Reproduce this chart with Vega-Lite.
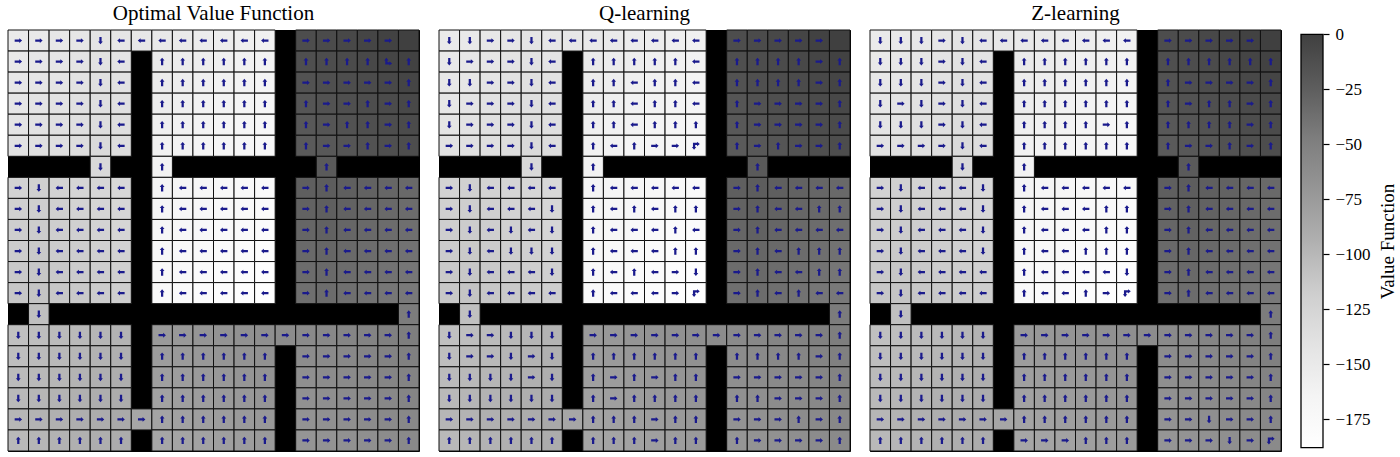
{
"$schema": "https://vega.github.io/schema/vega-lite/v6.json",
"padding": {"left": 7, "top": 2, "right": 0, "bottom": 0},
"background": "white",
"config": {"view": {"stroke": null}, "title": {"font": "Liberation Serif", "fontSize": 21, "fontWeight": "normal", "color": "black", "offset": 6}},
"datasets": {"cells": [
{"r":0,"c":0,"v":-151,"o":"→","q":"↓","z":"↓"},{"r":0,"c":1,"v":-149,"o":"→","q":"↓","z":"↓"},{"r":0,"c":2,"v":-147,"o":"→","q":"→","z":"↓"},{"r":0,"c":3,"v":-145,"o":"→","q":"→","z":"→"},{"r":0,"c":4,"v":-142,"o":"↓","q":"↓","z":"↓"},{"r":0,"c":5,"v":-145,"o":"←","q":"←","z":"←"},{"r":0,"c":6,"v":-147,"o":"←","q":"←","z":"←"},{"r":0,"c":7,"v":-149,"o":"←","q":"←","z":"←"},{"r":0,"c":8,"v":-151,"o":"←","q":"←","z":"←"},{"r":0,"c":9,"v":-153,"o":"←","q":"←","z":"←"},{"r":0,"c":10,"v":-155,"o":"←","q":"←","z":"←"},{"r":0,"c":11,"v":-158,"o":"←","q":"←","z":"←"},{"r":0,"c":12,"v":-160,"o":"←","q":"←","z":"←"},{"r":0,"c":14,"v":-11,"o":"→","q":"→","z":"→"},{"r":0,"c":15,"v":-9,"o":"→","q":"→","z":"→"},{"r":0,"c":16,"v":-7,"o":"→","q":"→","z":"→"},{"r":0,"c":17,"v":-4,"o":"→","q":"→","z":"→"},{"r":0,"c":18,"v":-2,"o":"→","q":"→","z":"→"},{"r":0,"c":19,"v":0,"o":"","q":"","z":""},
{"r":1,"c":0,"v":-149,"o":"→","q":"↓","z":"↓"},{"r":1,"c":1,"v":-147,"o":"→","q":"→","z":"↓"},{"r":1,"c":2,"v":-145,"o":"→","q":"→","z":"↓"},{"r":1,"c":3,"v":-142,"o":"→","q":"→","z":"→"},{"r":1,"c":4,"v":-140,"o":"↓","q":"↓","z":"↓"},{"r":1,"c":5,"v":-142,"o":"←","q":"←","z":"←"},{"r":1,"c":7,"v":-151,"o":"↑","q":"↑","z":"↑"},{"r":1,"c":8,"v":-153,"o":"↑","q":"↑","z":"↑"},{"r":1,"c":9,"v":-155,"o":"↑","q":"↑","z":"↑"},{"r":1,"c":10,"v":-158,"o":"↑","q":"↑","z":"↑"},{"r":1,"c":11,"v":-160,"o":"↑","q":"↑","z":"↑"},{"r":1,"c":12,"v":-162,"o":"↑","q":"←","z":"↑"},{"r":1,"c":14,"v":-13,"o":"↑","q":"↑","z":"↑"},{"r":1,"c":15,"v":-11,"o":"↑","q":"↑","z":"↑"},{"r":1,"c":16,"v":-9,"o":"↑","q":"↑","z":"↑"},{"r":1,"c":17,"v":-7,"o":"↑","q":"↑","z":"↑"},{"r":1,"c":18,"v":-4,"o":"↳","q":"→","z":"↑"},{"r":1,"c":19,"v":-2,"o":"↑","q":"↑","z":"↑"},
{"r":2,"c":0,"v":-147,"o":"→","q":"↓","z":"↓"},{"r":2,"c":1,"v":-145,"o":"→","q":"↓","z":"↓"},{"r":2,"c":2,"v":-142,"o":"→","q":"→","z":"↓"},{"r":2,"c":3,"v":-140,"o":"→","q":"→","z":"→"},{"r":2,"c":4,"v":-138,"o":"↓","q":"↓","z":"↓"},{"r":2,"c":5,"v":-140,"o":"←","q":"←","z":"←"},{"r":2,"c":7,"v":-153,"o":"↑","q":"↑","z":"↑"},{"r":2,"c":8,"v":-155,"o":"↑","q":"↑","z":"↑"},{"r":2,"c":9,"v":-158,"o":"↑","q":"←","z":"↑"},{"r":2,"c":10,"v":-160,"o":"↑","q":"↑","z":"↑"},{"r":2,"c":11,"v":-162,"o":"↑","q":"↑","z":"↑"},{"r":2,"c":12,"v":-164,"o":"↑","q":"←","z":"↑"},{"r":2,"c":14,"v":-15,"o":"→","q":"↑","z":"↑"},{"r":2,"c":15,"v":-13,"o":"→","q":"↑","z":"→"},{"r":2,"c":16,"v":-11,"o":"→","q":"↑","z":"→"},{"r":2,"c":17,"v":-9,"o":"→","q":"↑","z":"→"},{"r":2,"c":18,"v":-7,"o":"→","q":"→","z":"→"},{"r":2,"c":19,"v":-4,"o":"↑","q":"↑","z":"↑"},
{"r":3,"c":0,"v":-145,"o":"→","q":"↓","z":"↓"},{"r":3,"c":1,"v":-142,"o":"→","q":"→","z":"→"},{"r":3,"c":2,"v":-140,"o":"→","q":"→","z":"↓"},{"r":3,"c":3,"v":-138,"o":"→","q":"→","z":"→"},{"r":3,"c":4,"v":-136,"o":"↓","q":"↓","z":"↓"},{"r":3,"c":5,"v":-138,"o":"←","q":"←","z":"←"},{"r":3,"c":7,"v":-155,"o":"↑","q":"↑","z":"↑"},{"r":3,"c":8,"v":-158,"o":"↑","q":"↑","z":"↑"},{"r":3,"c":9,"v":-160,"o":"↑","q":"←","z":"↑"},{"r":3,"c":10,"v":-162,"o":"↑","q":"↑","z":"↑"},{"r":3,"c":11,"v":-164,"o":"↑","q":"↑","z":"↑"},{"r":3,"c":12,"v":-166,"o":"↑","q":"←","z":"↑"},{"r":3,"c":14,"v":-18,"o":"↑","q":"↑","z":"↑"},{"r":3,"c":15,"v":-15,"o":"→","q":"→","z":"→"},{"r":3,"c":16,"v":-13,"o":"→","q":"→","z":"↑"},{"r":3,"c":17,"v":-11,"o":"↑","q":"→","z":"↑"},{"r":3,"c":18,"v":-9,"o":"→","q":"→","z":"→"},{"r":3,"c":19,"v":-7,"o":"↑","q":"↑","z":"↑"},
{"r":4,"c":0,"v":-142,"o":"→","q":"↓","z":"↓"},{"r":4,"c":1,"v":-140,"o":"→","q":"→","z":"↓"},{"r":4,"c":2,"v":-138,"o":"→","q":"→","z":"↓"},{"r":4,"c":3,"v":-136,"o":"→","q":"→","z":"→"},{"r":4,"c":4,"v":-134,"o":"↓","q":"↓","z":"↓"},{"r":4,"c":5,"v":-136,"o":"←","q":"←","z":"←"},{"r":4,"c":7,"v":-158,"o":"↑","q":"↑","z":"↑"},{"r":4,"c":8,"v":-160,"o":"↑","q":"↑","z":"↑"},{"r":4,"c":9,"v":-162,"o":"↑","q":"←","z":"↑"},{"r":4,"c":10,"v":-164,"o":"↑","q":"↑","z":"↑"},{"r":4,"c":11,"v":-166,"o":"↑","q":"↑","z":"→"},{"r":4,"c":12,"v":-169,"o":"↑","q":"↑","z":"↑"},{"r":4,"c":14,"v":-20,"o":"↑","q":"↑","z":"↑"},{"r":4,"c":15,"v":-18,"o":"→","q":"→","z":"↑"},{"r":4,"c":16,"v":-15,"o":"↑","q":"→","z":"↑"},{"r":4,"c":17,"v":-13,"o":"↑","q":"→","z":"↑"},{"r":4,"c":18,"v":-11,"o":"→","q":"→","z":"→"},{"r":4,"c":19,"v":-9,"o":"↑","q":"↑","z":"↑"},
{"r":5,"c":0,"v":-140,"o":"→","q":"→","z":"→"},{"r":5,"c":1,"v":-138,"o":"→","q":"→","z":"→"},{"r":5,"c":2,"v":-136,"o":"→","q":"→","z":"→"},{"r":5,"c":3,"v":-134,"o":"→","q":"→","z":"→"},{"r":5,"c":4,"v":-131,"o":"↓","q":"↓","z":"↓"},{"r":5,"c":5,"v":-134,"o":"←","q":"←","z":"←"},{"r":5,"c":7,"v":-160,"o":"↑","q":"↑","z":"↑"},{"r":5,"c":8,"v":-162,"o":"↑","q":"←","z":"↑"},{"r":5,"c":9,"v":-164,"o":"↑","q":"↑","z":"↑"},{"r":5,"c":10,"v":-166,"o":"↑","q":"→","z":"↑"},{"r":5,"c":11,"v":-169,"o":"↑","q":"→","z":"↑"},{"r":5,"c":12,"v":-171,"o":"↑","q":"↱","z":"↑"},{"r":5,"c":14,"v":-22,"o":"↑","q":"↑","z":"↑"},{"r":5,"c":15,"v":-20,"o":"→","q":"→","z":"→"},{"r":5,"c":16,"v":-18,"o":"→","q":"↑","z":"→"},{"r":5,"c":17,"v":-15,"o":"↑","q":"→","z":"↑"},{"r":5,"c":18,"v":-13,"o":"→","q":"→","z":"→"},{"r":5,"c":19,"v":-11,"o":"↑","q":"↑","z":"↑"},
{"r":6,"c":4,"v":-129,"o":"↓","q":"↓","z":"↓"},{"r":6,"c":7,"v":-162,"o":"↑","q":"↑","z":"↑"},{"r":6,"c":15,"v":-22,"o":"↑","q":"↑","z":"↑"},
{"r":7,"c":0,"v":-123,"o":"→","q":"→","z":"→"},{"r":7,"c":1,"v":-120,"o":"↓","q":"↓","z":"↓"},{"r":7,"c":2,"v":-123,"o":"←","q":"←","z":"←"},{"r":7,"c":3,"v":-125,"o":"←","q":"←","z":"←"},{"r":7,"c":4,"v":-127,"o":"←","q":"←","z":"←"},{"r":7,"c":5,"v":-129,"o":"←","q":"←","z":"↓"},{"r":7,"c":7,"v":-164,"o":"↑","q":"↑","z":"↑"},{"r":7,"c":8,"v":-166,"o":"←","q":"←","z":"←"},{"r":7,"c":9,"v":-169,"o":"←","q":"←","z":"←"},{"r":7,"c":10,"v":-171,"o":"←","q":"←","z":"←"},{"r":7,"c":11,"v":-173,"o":"←","q":"←","z":"←"},{"r":7,"c":12,"v":-175,"o":"←","q":"←","z":"←"},{"r":7,"c":14,"v":-26,"o":"→","q":"→","z":"→"},{"r":7,"c":15,"v":-24,"o":"↑","q":"↑","z":"↑"},{"r":7,"c":16,"v":-26,"o":"←","q":"←","z":"←"},{"r":7,"c":17,"v":-28,"o":"←","q":"←","z":"←"},{"r":7,"c":18,"v":-31,"o":"←","q":"←","z":"←"},{"r":7,"c":19,"v":-33,"o":"←","q":"←","z":"←"},
{"r":8,"c":0,"v":-120,"o":"→","q":"→","z":"→"},{"r":8,"c":1,"v":-118,"o":"↓","q":"↓","z":"↓"},{"r":8,"c":2,"v":-120,"o":"←","q":"←","z":"←"},{"r":8,"c":3,"v":-123,"o":"←","q":"←","z":"←"},{"r":8,"c":4,"v":-125,"o":"←","q":"←","z":"←"},{"r":8,"c":5,"v":-127,"o":"←","q":"↓","z":"↓"},{"r":8,"c":7,"v":-166,"o":"↑","q":"↑","z":"↑"},{"r":8,"c":8,"v":-169,"o":"←","q":"←","z":"←"},{"r":8,"c":9,"v":-171,"o":"←","q":"↑","z":"←"},{"r":8,"c":10,"v":-173,"o":"←","q":"←","z":"←"},{"r":8,"c":11,"v":-175,"o":"←","q":"↑","z":"↑"},{"r":8,"c":12,"v":-177,"o":"←","q":"↑","z":"↑"},{"r":8,"c":14,"v":-28,"o":"→","q":"→","z":"→"},{"r":8,"c":15,"v":-26,"o":"↑","q":"↑","z":"↑"},{"r":8,"c":16,"v":-28,"o":"←","q":"←","z":"←"},{"r":8,"c":17,"v":-31,"o":"←","q":"←","z":"←"},{"r":8,"c":18,"v":-33,"o":"←","q":"↑","z":"←"},{"r":8,"c":19,"v":-35,"o":"←","q":"↑","z":"←"},
{"r":9,"c":0,"v":-118,"o":"→","q":"→","z":"→"},{"r":9,"c":1,"v":-116,"o":"↓","q":"↓","z":"↓"},{"r":9,"c":2,"v":-118,"o":"←","q":"←","z":"←"},{"r":9,"c":3,"v":-120,"o":"←","q":"↓","z":"←"},{"r":9,"c":4,"v":-123,"o":"←","q":"←","z":"←"},{"r":9,"c":5,"v":-125,"o":"←","q":"↓","z":"↓"},{"r":9,"c":7,"v":-169,"o":"↑","q":"↑","z":"↑"},{"r":9,"c":8,"v":-171,"o":"←","q":"←","z":"←"},{"r":9,"c":9,"v":-173,"o":"←","q":"←","z":"←"},{"r":9,"c":10,"v":-175,"o":"←","q":"←","z":"←"},{"r":9,"c":11,"v":-177,"o":"←","q":"↑","z":"↑"},{"r":9,"c":12,"v":-180,"o":"←","q":"←","z":"↑"},{"r":9,"c":14,"v":-31,"o":"→","q":"→","z":"→"},{"r":9,"c":15,"v":-28,"o":"↑","q":"↑","z":"↑"},{"r":9,"c":16,"v":-31,"o":"←","q":"←","z":"←"},{"r":9,"c":17,"v":-33,"o":"←","q":"←","z":"←"},{"r":9,"c":18,"v":-35,"o":"←","q":"←","z":"←"},{"r":9,"c":19,"v":-37,"o":"←","q":"←","z":"←"},
{"r":10,"c":0,"v":-116,"o":"→","q":"→","z":"→"},{"r":10,"c":1,"v":-114,"o":"↓","q":"↓","z":"↓"},{"r":10,"c":2,"v":-116,"o":"←","q":"←","z":"←"},{"r":10,"c":3,"v":-118,"o":"←","q":"↓","z":"←"},{"r":10,"c":4,"v":-120,"o":"←","q":"↓","z":"←"},{"r":10,"c":5,"v":-123,"o":"←","q":"↓","z":"↓"},{"r":10,"c":7,"v":-171,"o":"↑","q":"↑","z":"↑"},{"r":10,"c":8,"v":-173,"o":"←","q":"←","z":"←"},{"r":10,"c":9,"v":-175,"o":"←","q":"←","z":"←"},{"r":10,"c":10,"v":-177,"o":"←","q":"←","z":"↑"},{"r":10,"c":11,"v":-180,"o":"←","q":"↑","z":"↑"},{"r":10,"c":12,"v":-182,"o":"←","q":"↑","z":"↑"},{"r":10,"c":14,"v":-33,"o":"→","q":"→","z":"→"},{"r":10,"c":15,"v":-31,"o":"↑","q":"↑","z":"↑"},{"r":10,"c":16,"v":-33,"o":"←","q":"←","z":"←"},{"r":10,"c":17,"v":-35,"o":"←","q":"↑","z":"←"},{"r":10,"c":18,"v":-37,"o":"←","q":"↑","z":"←"},{"r":10,"c":19,"v":-39,"o":"←","q":"↑","z":"←"},
{"r":11,"c":0,"v":-114,"o":"→","q":"→","z":"→"},{"r":11,"c":1,"v":-112,"o":"↓","q":"↓","z":"↓"},{"r":11,"c":2,"v":-114,"o":"←","q":"←","z":"←"},{"r":11,"c":3,"v":-116,"o":"←","q":"←","z":"←"},{"r":11,"c":4,"v":-118,"o":"←","q":"←","z":"←"},{"r":11,"c":5,"v":-120,"o":"←","q":"↓","z":"←"},{"r":11,"c":7,"v":-173,"o":"↑","q":"↑","z":"↑"},{"r":11,"c":8,"v":-175,"o":"←","q":"←","z":"←"},{"r":11,"c":9,"v":-177,"o":"←","q":"↑","z":"←"},{"r":11,"c":10,"v":-180,"o":"←","q":"←","z":"←"},{"r":11,"c":11,"v":-182,"o":"←","q":"→","z":"←"},{"r":11,"c":12,"v":-184,"o":"←","q":"↓","z":"↓"},{"r":11,"c":14,"v":-35,"o":"→","q":"→","z":"→"},{"r":11,"c":15,"v":-33,"o":"↑","q":"↑","z":"↑"},{"r":11,"c":16,"v":-35,"o":"←","q":"←","z":"←"},{"r":11,"c":17,"v":-37,"o":"←","q":"←","z":"←"},{"r":11,"c":18,"v":-39,"o":"←","q":"↑","z":"←"},{"r":11,"c":19,"v":-42,"o":"←","q":"↑","z":"←"},
{"r":12,"c":0,"v":-112,"o":"→","q":"→","z":"→"},{"r":12,"c":1,"v":-110,"o":"↓","q":"↓","z":"↓"},{"r":12,"c":2,"v":-112,"o":"←","q":"←","z":"←"},{"r":12,"c":3,"v":-114,"o":"←","q":"←","z":"←"},{"r":12,"c":4,"v":-116,"o":"←","q":"←","z":"←"},{"r":12,"c":5,"v":-118,"o":"←","q":"←","z":"←"},{"r":12,"c":7,"v":-175,"o":"↑","q":"↑","z":"↑"},{"r":12,"c":8,"v":-177,"o":"←","q":"←","z":"←"},{"r":12,"c":9,"v":-180,"o":"←","q":"←","z":"←"},{"r":12,"c":10,"v":-182,"o":"←","q":"←","z":"↑"},{"r":12,"c":11,"v":-184,"o":"←","q":"→","z":"→"},{"r":12,"c":12,"v":-186,"o":"←","q":"↱","z":"↱"},{"r":12,"c":14,"v":-37,"o":"→","q":"→","z":"→"},{"r":12,"c":15,"v":-35,"o":"↑","q":"↑","z":"↑"},{"r":12,"c":16,"v":-37,"o":"←","q":"←","z":"←"},{"r":12,"c":17,"v":-39,"o":"←","q":"↑","z":"←"},{"r":12,"c":18,"v":-42,"o":"←","q":"←","z":"←"},{"r":12,"c":19,"v":-44,"o":"←","q":"←","z":"←"},
{"r":13,"c":1,"v":-107,"o":"↓","q":"↓","z":"↓"},{"r":13,"c":19,"v":-46,"o":"↑","q":"↑","z":"↑"},
{"r":14,"c":0,"v":-107,"o":"↓","q":"↓","z":"↓"},{"r":14,"c":1,"v":-105,"o":"↓","q":"→","z":"↓"},{"r":14,"c":2,"v":-103,"o":"↓","q":"→","z":"↓"},{"r":14,"c":3,"v":-101,"o":"↓","q":"↓","z":"↓"},{"r":14,"c":4,"v":-99,"o":"↓","q":"↓","z":"↓"},{"r":14,"c":5,"v":-96,"o":"↓","q":"↓","z":"↓"},{"r":14,"c":7,"v":-74,"o":"→","q":"→","z":"→"},{"r":14,"c":8,"v":-72,"o":"→","q":"→","z":"→"},{"r":14,"c":9,"v":-70,"o":"→","q":"→","z":"→"},{"r":14,"c":10,"v":-68,"o":"→","q":"→","z":"→"},{"r":14,"c":11,"v":-66,"o":"→","q":"→","z":"→"},{"r":14,"c":12,"v":-64,"o":"→","q":"→","z":"→"},{"r":14,"c":13,"v":-61,"o":"→","q":"→","z":"→"},{"r":14,"c":14,"v":-59,"o":"→","q":"→","z":"→"},{"r":14,"c":15,"v":-57,"o":"→","q":"→","z":"→"},{"r":14,"c":16,"v":-55,"o":"→","q":"→","z":"→"},{"r":14,"c":17,"v":-53,"o":"→","q":"→","z":"→"},{"r":14,"c":18,"v":-50,"o":"→","q":"→","z":"→"},{"r":14,"c":19,"v":-48,"o":"↑","q":"↑","z":"↑"},
{"r":15,"c":0,"v":-105,"o":"↓","q":"↓","z":"↓"},{"r":15,"c":1,"v":-103,"o":"↓","q":"→","z":"↓"},{"r":15,"c":2,"v":-101,"o":"↓","q":"→","z":"↓"},{"r":15,"c":3,"v":-99,"o":"↓","q":"↓","z":"↓"},{"r":15,"c":4,"v":-96,"o":"↓","q":"→","z":"↓"},{"r":15,"c":5,"v":-94,"o":"↓","q":"↓","z":"↓"},{"r":15,"c":7,"v":-77,"o":"↑","q":"↑","z":"↑"},{"r":15,"c":8,"v":-74,"o":"↑","q":"↑","z":"↑"},{"r":15,"c":9,"v":-72,"o":"↑","q":"↑","z":"↑"},{"r":15,"c":10,"v":-70,"o":"↑","q":"↑","z":"↑"},{"r":15,"c":11,"v":-68,"o":"↑","q":"↑","z":"↑"},{"r":15,"c":12,"v":-66,"o":"↑","q":"↑","z":"↑"},{"r":15,"c":14,"v":-61,"o":"→","q":"↑","z":"→"},{"r":15,"c":15,"v":-59,"o":"→","q":"↑","z":"→"},{"r":15,"c":16,"v":-57,"o":"→","q":"↑","z":"→"},{"r":15,"c":17,"v":-55,"o":"→","q":"↑","z":"→"},{"r":15,"c":18,"v":-53,"o":"→","q":"→","z":"→"},{"r":15,"c":19,"v":-50,"o":"↑","q":"↑","z":"↑"},
{"r":16,"c":0,"v":-103,"o":"↓","q":"↓","z":"↓"},{"r":16,"c":1,"v":-101,"o":"↓","q":"↓","z":"↓"},{"r":16,"c":2,"v":-99,"o":"↓","q":"↓","z":"↓"},{"r":16,"c":3,"v":-96,"o":"↓","q":"↓","z":"↓"},{"r":16,"c":4,"v":-94,"o":"↓","q":"→","z":"↓"},{"r":16,"c":5,"v":-92,"o":"↓","q":"↓","z":"↓"},{"r":16,"c":7,"v":-79,"o":"↑","q":"↑","z":"↑"},{"r":16,"c":8,"v":-77,"o":"↑","q":"→","z":"↑"},{"r":16,"c":9,"v":-74,"o":"↑","q":"↑","z":"↑"},{"r":16,"c":10,"v":-72,"o":"↑","q":"→","z":"↑"},{"r":16,"c":11,"v":-70,"o":"↑","q":"↑","z":"↑"},{"r":16,"c":12,"v":-68,"o":"↑","q":"↑","z":"↑"},{"r":16,"c":14,"v":-64,"o":"→","q":"→","z":"→"},{"r":16,"c":15,"v":-61,"o":"→","q":"→","z":"→"},{"r":16,"c":16,"v":-59,"o":"→","q":"→","z":"→"},{"r":16,"c":17,"v":-57,"o":"→","q":"→","z":"→"},{"r":16,"c":18,"v":-55,"o":"→","q":"→","z":"→"},{"r":16,"c":19,"v":-53,"o":"↑","q":"↑","z":"↑"},
{"r":17,"c":0,"v":-101,"o":"↓","q":"↓","z":"↓"},{"r":17,"c":1,"v":-99,"o":"↓","q":"↓","z":"↓"},{"r":17,"c":2,"v":-96,"o":"↓","q":"↓","z":"↓"},{"r":17,"c":3,"v":-94,"o":"↓","q":"↓","z":"↓"},{"r":17,"c":4,"v":-92,"o":"↓","q":"↓","z":"↓"},{"r":17,"c":5,"v":-90,"o":"↓","q":"↓","z":"↓"},{"r":17,"c":7,"v":-81,"o":"↑","q":"↑","z":"↑"},{"r":17,"c":8,"v":-79,"o":"↑","q":"→","z":"↑"},{"r":17,"c":9,"v":-77,"o":"↑","q":"↑","z":"↑"},{"r":17,"c":10,"v":-74,"o":"↑","q":"↑","z":"↑"},{"r":17,"c":11,"v":-72,"o":"↑","q":"↑","z":"↑"},{"r":17,"c":12,"v":-70,"o":"↑","q":"↑","z":"↑"},{"r":17,"c":14,"v":-66,"o":"→","q":"↑","z":"→"},{"r":17,"c":15,"v":-64,"o":"→","q":"↑","z":"→"},{"r":17,"c":16,"v":-61,"o":"→","q":"→","z":"→"},{"r":17,"c":17,"v":-59,"o":"→","q":"→","z":"→"},{"r":17,"c":18,"v":-57,"o":"→","q":"→","z":"→"},{"r":17,"c":19,"v":-55,"o":"↑","q":"↑","z":"↑"},
{"r":18,"c":0,"v":-99,"o":"→","q":"→","z":"→"},{"r":18,"c":1,"v":-96,"o":"→","q":"→","z":"→"},{"r":18,"c":2,"v":-94,"o":"→","q":"→","z":"→"},{"r":18,"c":3,"v":-92,"o":"→","q":"→","z":"→"},{"r":18,"c":4,"v":-90,"o":"→","q":"→","z":"→"},{"r":18,"c":5,"v":-88,"o":"→","q":"→","z":"→"},{"r":18,"c":6,"v":-85,"o":"→","q":"→","z":"→"},{"r":18,"c":7,"v":-83,"o":"↑","q":"↑","z":"↑"},{"r":18,"c":8,"v":-81,"o":"↑","q":"↑","z":"↑"},{"r":18,"c":9,"v":-79,"o":"↑","q":"↑","z":"↑"},{"r":18,"c":10,"v":-77,"o":"↑","q":"→","z":"↑"},{"r":18,"c":11,"v":-74,"o":"↑","q":"↑","z":"↑"},{"r":18,"c":12,"v":-72,"o":"↑","q":"↑","z":"↑"},{"r":18,"c":14,"v":-68,"o":"→","q":"→","z":"→"},{"r":18,"c":15,"v":-66,"o":"→","q":"→","z":"→"},{"r":18,"c":16,"v":-64,"o":"→","q":"→","z":"↓"},{"r":18,"c":17,"v":-61,"o":"→","q":"↑","z":"→"},{"r":18,"c":18,"v":-59,"o":"→","q":"→","z":"→"},{"r":18,"c":19,"v":-57,"o":"↑","q":"↑","z":"↑"},
{"r":19,"c":0,"v":-101,"o":"↑","q":"↑","z":"↑"},{"r":19,"c":1,"v":-99,"o":"↑","q":"↑","z":"↑"},{"r":19,"c":2,"v":-96,"o":"↑","q":"↑","z":"↑"},{"r":19,"c":3,"v":-94,"o":"↑","q":"↑","z":"↑"},{"r":19,"c":4,"v":-92,"o":"↑","q":"↑","z":"↑"},{"r":19,"c":5,"v":-90,"o":"↑","q":"↑","z":"↑"},{"r":19,"c":7,"v":-85,"o":"↑","q":"↑","z":"→"},{"r":19,"c":8,"v":-83,"o":"↑","q":"↑","z":"→"},{"r":19,"c":9,"v":-81,"o":"↑","q":"↑","z":"→"},{"r":19,"c":10,"v":-79,"o":"↑","q":"→","z":"↑"},{"r":19,"c":11,"v":-77,"o":"↑","q":"↑","z":"↑"},{"r":19,"c":12,"v":-74,"o":"↑","q":"↑","z":"↑"},{"r":19,"c":14,"v":-70,"o":"→","q":"↑","z":"→"},{"r":19,"c":15,"v":-68,"o":"→","q":"→","z":"→"},{"r":19,"c":16,"v":-66,"o":"→","q":"→","z":"→"},{"r":19,"c":17,"v":-64,"o":"→","q":"→","z":"↓"},{"r":19,"c":18,"v":-61,"o":"→","q":"→","z":"→"},{"r":19,"c":19,"v":-59,"o":"↑","q":"↑","z":"↱"}
]},
"data": {"name": "cells"},
"bounds": "flush",
"spacing": 20,
"hconcat": [
{"title": "Optimal Value Function", "width": 411, "height": 421, "view": {"fill": "black", "stroke": "black"},
 "layer": [
  {"mark": {"type": "rect", "stroke": "#111111", "strokeWidth": 1},
   "encoding": {
    "x": {"field": "c", "type": "ordinal", "scale": {"domain": [0,1,2,3,4,5,6,7,8,9,10,11,12,13,14,15,16,17,18,19], "paddingInner": 0, "paddingOuter": 0}, "axis": null},
    "y": {"field": "r", "type": "ordinal", "scale": {"domain": [0,1,2,3,4,5,6,7,8,9,10,11,12,13,14,15,16,17,18,19], "paddingInner": 0, "paddingOuter": 0}, "axis": null},
    "fill": {"field": "v", "type": "quantitative", "scale": {"domain": [-188,-164.5,-141,-117.5,-94,-70.5,-47,-23.5,0], "range": ["#ffffff","#f4f4f4","#e3e3e3","#cecece","#b0b0b0","#969696","#7d7d7d","#5c5c5c","#404040"]}, "legend": null}}},
  {"transform": [{"filter": "datum.o != ''"}],
   "mark": {"type": "point", "filled": true, "size": 64, "strokeWidth": 0, "opacity": 1, "color": "#1a1a8c"},
   "encoding": {
    "x": {"field": "c", "type": "ordinal"},
    "y": {"field": "r", "type": "ordinal"},
    "shape": {"field": "o", "type": "nominal", "legend": null, "scale": {"domain": ["→","←","↑","↓","↳","↱"], "range": [
      "M -0.9 -0.28 L 0.25 -0.28 L 0.25 -0.6 L 0.95 0 L 0.25 0.6 L 0.25 0.28 L -0.9 0.28 Z",
      "M 0.9 -0.28 L -0.25 -0.28 L -0.25 -0.6 L -0.95 0 L -0.25 0.6 L -0.25 0.28 L 0.9 0.28 Z",
      "M -0.28 0.9 L -0.28 -0.25 L -0.6 -0.25 L 0 -0.95 L 0.6 -0.25 L 0.28 -0.25 L 0.28 0.9 Z",
      "M -0.28 -0.9 L -0.28 0.25 L -0.6 0.25 L 0 0.95 L 0.6 0.25 L 0.28 0.25 L 0.28 -0.9 Z",
      "M -0.73 0.73 L -0.73 -0.3 L -1 -0.3 L -0.45 -0.98 L 0.1 -0.3 L -0.17 -0.3 L -0.17 0.17 L 0.3 0.17 L 0.3 -0.1 L 0.98 0.45 L 0.3 1 L 0.3 0.73 Z",
      "M -0.73 -0.73 L 0.3 -0.73 L 0.3 -1 L 0.98 -0.45 L 0.3 0.1 L 0.3 -0.17 L -0.17 -0.17 L -0.17 0.3 L 0.1 0.3 L -0.45 0.98 L -1 0.3 L -0.73 0.3 Z"]}}}}
 ]},
{"title": "Q-learning", "width": 411, "height": 421, "view": {"fill": "black", "stroke": "black"},
 "layer": [
  {"mark": {"type": "rect", "stroke": "#111111", "strokeWidth": 1},
   "encoding": {
    "x": {"field": "c", "type": "ordinal", "scale": {"domain": [0,1,2,3,4,5,6,7,8,9,10,11,12,13,14,15,16,17,18,19], "paddingInner": 0, "paddingOuter": 0}, "axis": null},
    "y": {"field": "r", "type": "ordinal", "scale": {"domain": [0,1,2,3,4,5,6,7,8,9,10,11,12,13,14,15,16,17,18,19], "paddingInner": 0, "paddingOuter": 0}, "axis": null},
    "fill": {"field": "v", "type": "quantitative", "scale": {"domain": [-188,-164.5,-141,-117.5,-94,-70.5,-47,-23.5,0], "range": ["#ffffff","#f4f4f4","#e3e3e3","#cecece","#b0b0b0","#969696","#7d7d7d","#5c5c5c","#404040"]}, "legend": null}}},
  {"transform": [{"filter": "datum.q != ''"}],
   "mark": {"type": "point", "filled": true, "size": 64, "strokeWidth": 0, "opacity": 1, "color": "#1a1a8c"},
   "encoding": {
    "x": {"field": "c", "type": "ordinal"},
    "y": {"field": "r", "type": "ordinal"},
    "shape": {"field": "q", "type": "nominal", "legend": null, "scale": {"domain": ["→","←","↑","↓","↳","↱"], "range": [
      "M -0.9 -0.28 L 0.25 -0.28 L 0.25 -0.6 L 0.95 0 L 0.25 0.6 L 0.25 0.28 L -0.9 0.28 Z",
      "M 0.9 -0.28 L -0.25 -0.28 L -0.25 -0.6 L -0.95 0 L -0.25 0.6 L -0.25 0.28 L 0.9 0.28 Z",
      "M -0.28 0.9 L -0.28 -0.25 L -0.6 -0.25 L 0 -0.95 L 0.6 -0.25 L 0.28 -0.25 L 0.28 0.9 Z",
      "M -0.28 -0.9 L -0.28 0.25 L -0.6 0.25 L 0 0.95 L 0.6 0.25 L 0.28 0.25 L 0.28 -0.9 Z",
      "M -0.73 0.73 L -0.73 -0.3 L -1 -0.3 L -0.45 -0.98 L 0.1 -0.3 L -0.17 -0.3 L -0.17 0.17 L 0.3 0.17 L 0.3 -0.1 L 0.98 0.45 L 0.3 1 L 0.3 0.73 Z",
      "M -0.73 -0.73 L 0.3 -0.73 L 0.3 -1 L 0.98 -0.45 L 0.3 0.1 L 0.3 -0.17 L -0.17 -0.17 L -0.17 0.3 L 0.1 0.3 L -0.45 0.98 L -1 0.3 L -0.73 0.3 Z"]}}}}
 ]},
{"title": "Z-learning", "width": 411, "height": 421, "view": {"fill": "black", "stroke": "black"},
 "layer": [
  {"mark": {"type": "rect", "stroke": "#111111", "strokeWidth": 1},
   "encoding": {
    "x": {"field": "c", "type": "ordinal", "scale": {"domain": [0,1,2,3,4,5,6,7,8,9,10,11,12,13,14,15,16,17,18,19], "paddingInner": 0, "paddingOuter": 0}, "axis": null},
    "y": {"field": "r", "type": "ordinal", "scale": {"domain": [0,1,2,3,4,5,6,7,8,9,10,11,12,13,14,15,16,17,18,19], "paddingInner": 0, "paddingOuter": 0}, "axis": null},
    "fill": {"field": "v", "type": "quantitative", "scale": {"domain": [-188,-164.5,-141,-117.5,-94,-70.5,-47,-23.5,0], "range": ["#ffffff","#f4f4f4","#e3e3e3","#cecece","#b0b0b0","#969696","#7d7d7d","#5c5c5c","#404040"]}, "legend": null}}},
  {"transform": [{"filter": "datum.z != ''"}],
   "mark": {"type": "point", "filled": true, "size": 64, "strokeWidth": 0, "opacity": 1, "color": "#1a1a8c"},
   "encoding": {
    "x": {"field": "c", "type": "ordinal"},
    "y": {"field": "r", "type": "ordinal"},
    "shape": {"field": "z", "type": "nominal", "legend": null, "scale": {"domain": ["→","←","↑","↓","↳","↱"], "range": [
      "M -0.9 -0.28 L 0.25 -0.28 L 0.25 -0.6 L 0.95 0 L 0.25 0.6 L 0.25 0.28 L -0.9 0.28 Z",
      "M 0.9 -0.28 L -0.25 -0.28 L -0.25 -0.6 L -0.95 0 L -0.25 0.6 L -0.25 0.28 L 0.9 0.28 Z",
      "M -0.28 0.9 L -0.28 -0.25 L -0.6 -0.25 L 0 -0.95 L 0.6 -0.25 L 0.28 -0.25 L 0.28 0.9 Z",
      "M -0.28 -0.9 L -0.28 0.25 L -0.6 0.25 L 0 0.95 L 0.6 0.25 L 0.28 0.25 L 0.28 -0.9 Z",
      "M -0.73 0.73 L -0.73 -0.3 L -1 -0.3 L -0.45 -0.98 L 0.1 -0.3 L -0.17 -0.3 L -0.17 0.17 L 0.3 0.17 L 0.3 -0.1 L 0.98 0.45 L 0.3 1 L 0.3 0.73 Z",
      "M -0.73 -0.73 L 0.3 -0.73 L 0.3 -1 L 0.98 -0.45 L 0.3 0.1 L 0.3 -0.17 L -0.17 -0.17 L -0.17 0.3 L 0.1 0.3 L -0.45 0.98 L -1 0.3 L -0.73 0.3 Z"]}}}}
 ]},
{"width": 22, "height": 421,
 "data": {"values": [{"lo": -188, "hi": 0}]},
 "mark": {"type": "rect", "stroke": "black", "strokeWidth": 1.3,
  "fill": {"gradient": "linear", "x1": 0, "y1": 1, "x2": 0, "y2": 0, "stops": [
   {"offset": 0, "color": "#ffffff"}, {"offset": 0.125, "color": "#f4f4f4"}, {"offset": 0.25, "color": "#e3e3e3"}, {"offset": 0.375, "color": "#cecece"}, {"offset": 0.5, "color": "#b0b0b0"}, {"offset": 0.625, "color": "#969696"}, {"offset": 0.75, "color": "#7d7d7d"}, {"offset": 0.875, "color": "#5c5c5c"}, {"offset": 1, "color": "#404040"}]}},
 "encoding": {
  "x": {"value": 0}, "x2": {"value": "width"},
  "y": {"field": "lo", "type": "quantitative", "scale": {"domain": [-188, 0], "range": [417.7, 4.3], "nice": false, "zero": false},
   "axis": {"orient": "right", "values": [0,-25,-50,-75,-100,-125,-150,-175], "domain": false, "grid": false, "ticks": true, "tickSize": 6, "tickColor": "black", "tickWidth": 1.2,
    "labelFont": "Liberation Serif", "labelFontSize": 17, "labelColor": "black", "labelPadding": 6, "labelExpr": "replace(datum.label, '-', '−')",
    "title": "Value Function", "titleFont": "Liberation Serif", "titleFontSize": 19, "titleFontWeight": "normal", "titleColor": "black", "titleAngle": 270, "titleBaseline": "top", "titlePadding": 8}},
  "y2": {"field": "hi"}}}
]
}
